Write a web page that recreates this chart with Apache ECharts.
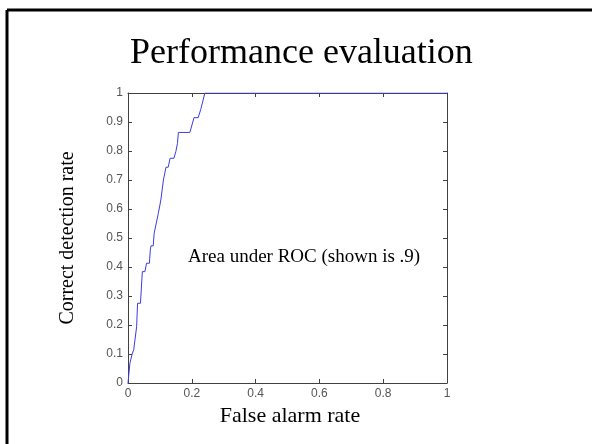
<!DOCTYPE html>
<html>
<head>
<meta charset="utf-8">
<script src="https://cdn.jsdelivr.net/npm/echarts@6/dist/echarts.min.js"></script>
<style>
  html, body { margin: 0; padding: 0; background: #fff; }
  #main { width: 592px; height: 444px; }
</style>
</head>
<body>
<div id="main"></div>
<script>
// ROC curve
var falseAlarm = [0, 0.003, 0.006, 0.013, 0.018, 0.027, 0.030, 0.039, 0.045, 0.053, 0.058, 0.067,
  0.070, 0.072, 0.079, 0.082, 0.095, 0.103, 0.111, 0.119, 0.126, 0.132, 0.144, 0.150, 0.155,
  0.158, 0.194, 0.207, 0.220, 0.228, 0.241, 1];
var correctDetection = [0, 0.034, 0.068, 0.1, 0.115, 0.194, 0.275, 0.275, 0.384, 0.384, 0.413, 0.413,
  0.459, 0.473, 0.473, 0.516, 0.585, 0.631, 0.70, 0.744, 0.744, 0.775, 0.775, 0.798, 0.826,
  0.864, 0.864, 0.915, 0.915, 0.943, 1.0, 1];
var titleText = 'Performance evaluation';
var xName = 'False alarm rate';
var yName = 'Correct detection rate';
var noteText = 'Area under ROC (shown is .9)';

var rocData = falseAlarm.map(function (x, i) { return [x, correctDetection[i]]; });

var axisColor = '#404040';
var serif = 'Liberation Serif';

function boxAxis(extra) {
  var a = {
    type: 'value',
    min: 0,
    max: 1,
    axisLine: { show: true, onZero: false, lineStyle: { color: axisColor, width: 1 } },
    axisTick: { show: true, inside: true, length: 4, lineStyle: { color: axisColor } },
    axisLabel: { show: false },
    splitLine: { show: false }
  };
  for (var k in extra) a[k] = extra[k];
  return a;
}

var tickLabel = { show: true, color: '#555', fontSize: 12, fontFamily: 'Liberation Sans' };

var chart = echarts.init(document.getElementById('main'));
chart.setOption({
  backgroundColor: '#fff',
  animation: false,
  title: {
    text: titleText,
    left: 125,
    top: 31,
    textStyle: { fontFamily: serif, fontSize: 36, fontWeight: 'normal', color: '#000' }
  },
  grid: { left: 128, right: 145, top: 93, bottom: 61 },
  xAxis: [
    boxAxis({
      position: 'bottom',
      interval: 0.2,
      axisLabel: Object.assign({ margin: 5 }, tickLabel),
      name: xName,
      nameLocation: 'middle',
      nameGap: 19,
      nameTextStyle: { fontFamily: serif, fontSize: 22, color: '#000', padding: [0, 0, 0, 5] }
    }),
    boxAxis({ position: 'top', interval: 0.2 })
  ],
  yAxis: [
    boxAxis({
      position: 'left',
      interval: 0.1,
      axisLabel: Object.assign({ margin: 5 }, tickLabel),
      name: yName,
      nameLocation: 'middle',
      nameGap: 50,
      nameTextStyle: { fontFamily: serif, fontSize: 20, color: '#000' }
    }),
    boxAxis({ position: 'right', interval: 0.1 })
  ],
  series: [{
    type: 'line',
    data: rocData,
    xAxisIndex: 0,
    yAxisIndex: 0,
    symbol: 'none',
    lineStyle: { color: '#3c3ce0', width: 1 }
  }],
  graphic: [
    { type: 'line', shape: { x1: 7, y1: 10, x2: 592, y2: 10 }, style: { stroke: '#000', lineWidth: 3 } },
    { type: 'line', shape: { x1: 7, y1: 10, x2: 7, y2: 444 }, style: { stroke: '#000', lineWidth: 3 } },
    {
      type: 'text', left: 188, top: 248,
      style: { text: noteText, fontFamily: serif, fontSize: 19, fill: '#000' }
    }
  ]
});
</script>
</body>
</html>
